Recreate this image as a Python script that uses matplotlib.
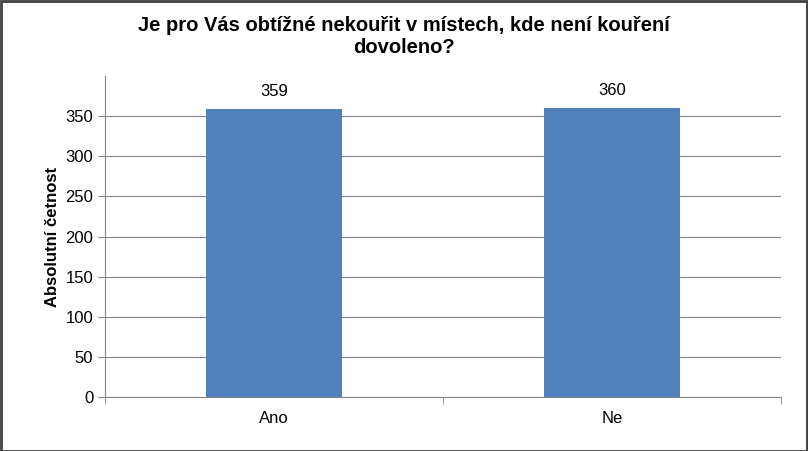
import matplotlib
matplotlib.use("Agg")
import matplotlib.pyplot as plt

categories = ["Ano", "Ne"]
values = [359, 360]
yticks = [0, 50, 100, 150, 200, 250, 300, 350]

plt.rcParams['font.family'] = ['Liberation Sans', 'DejaVu Sans']
fig = plt.figure(figsize=(8.08, 4.51), dpi=100)
ax = fig.add_axes([0.13, 0.1197, 0.8366, 0.7118])
x = list(range(len(categories)))
bars = ax.bar(x, values, width=0.4, color="#4F81BD")
for xi, v in zip(x, values):
    ax.text(xi, v + 12, str(v), ha="center", va="bottom", fontsize=12)
ax.set_xlim(-0.5, 1.5)
ax.set_ylim(0, 400)
ax.set_yticks(yticks)
ax.set_yticklabels([str(t) for t in yticks], fontsize=12)
ax.yaxis.grid(True, color="#868686", linewidth=0.8)
ax.set_axisbelow(True)
ax.set_xticks(x)
ax.set_xticklabels(categories, fontsize=12)
ax.set_xticks([-0.5, 0.5, 1.5], minor=True)
ax.tick_params(axis="x", which="major", length=0, pad=10)
ax.tick_params(axis="x", which="minor", length=5, color="#868686")
ax.tick_params(axis="y", length=5, color="#868686")
for s in ["top", "right"]:
    ax.spines[s].set_visible(False)
for s in ["left", "bottom"]:
    ax.spines[s].set_color("#868686")
ax.set_ylabel("Absolutní četnost", fontsize=12, fontweight="bold")
fig.suptitle("Je pro Vás obtížné nekouřit v místech, kde není kouření\ndovoleno?",
             fontsize=14.5, fontweight="bold", y=0.965, x=0.5)
fig.patches.append(plt.Rectangle((0.001, 0.001), 0.998, 0.997, transform=fig.transFigure,
                                 fill=False, edgecolor="#404040", linewidth=2))
fig.savefig("out.png", dpi=100)
